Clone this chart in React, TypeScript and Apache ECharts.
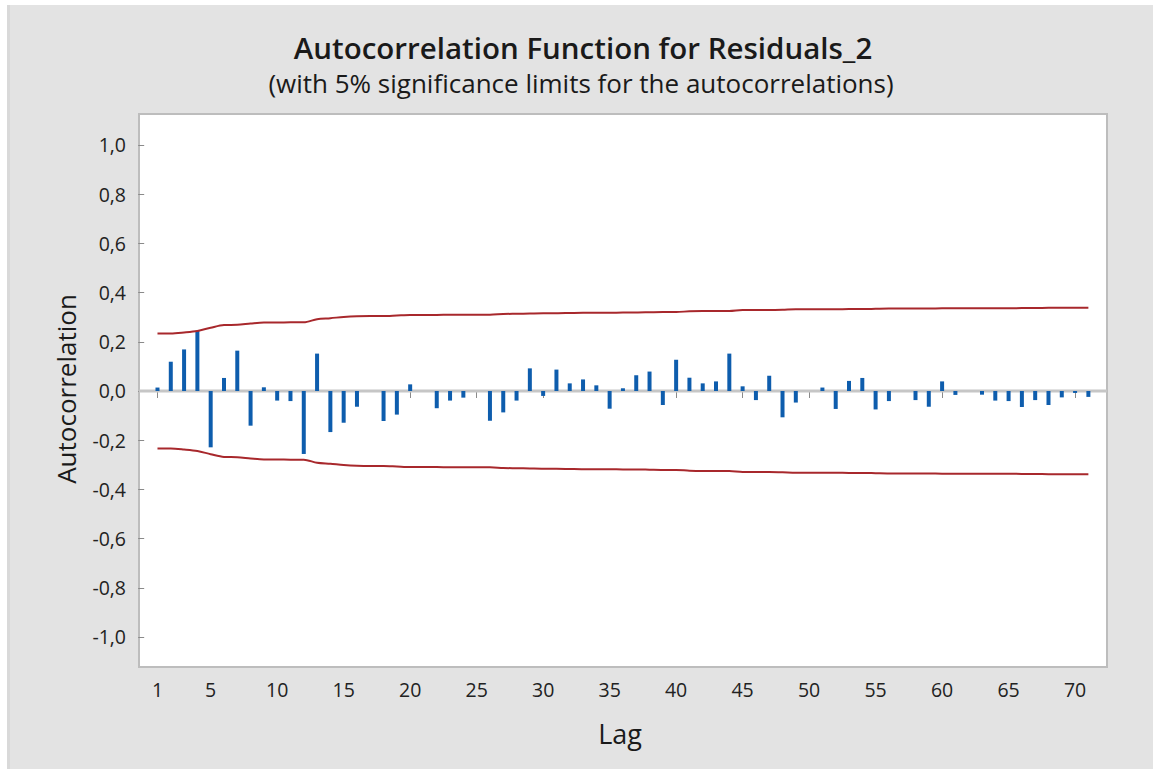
import React, { useEffect, useRef } from "react";
import * as echarts from "echarts";

const lags: number[] = Array.from({ length: 71 }, (_, i) => i + 1);

const acfValues: number[] = [
  0.014, 0.119, 0.169, 0.245, -0.229, 0.053, 0.164, -0.141, 0.015, -0.039,
  -0.041, -0.256, 0.152, -0.167, -0.129, -0.064, 0, -0.122, -0.096, 0.027,
  0, -0.07, -0.039, -0.027, 0, -0.121, -0.087, -0.039, 0.092, -0.02,
  0.087, 0.031, 0.047, 0.023, -0.072, 0.011, 0.064, 0.079, -0.057, 0.127,
  0.054, 0.031, 0.039, 0.152, 0.019, -0.037, 0.062, -0.107, -0.047, 0,
  0.014, -0.073, 0.041, 0.053, -0.075, -0.041, 0, -0.037, -0.064, 0.039,
  -0.016, 0, -0.015, -0.039, -0.041, -0.065, -0.037, -0.057, -0.026, -0.008,
  -0.024,
];

const upperLimits: number[] = [
  0.234, 0.234, 0.238, 0.244, 0.257, 0.268, 0.269, 0.274, 0.278, 0.278,
  0.279, 0.279, 0.292, 0.296, 0.301, 0.304, 0.305, 0.305, 0.307, 0.309,
  0.309, 0.309, 0.31, 0.31, 0.31, 0.31, 0.313, 0.314, 0.315, 0.316,
  0.316, 0.317, 0.318, 0.318, 0.318, 0.319, 0.319, 0.32, 0.321, 0.321,
  0.324, 0.325, 0.325, 0.325, 0.329, 0.329, 0.329, 0.33, 0.332, 0.332,
  0.332, 0.332, 0.333, 0.333, 0.334, 0.335, 0.335, 0.335, 0.335, 0.336,
  0.336, 0.336, 0.336, 0.336, 0.336, 0.337, 0.337, 0.338, 0.338, 0.338,
  0.338,
];
const lowerLimits: number[] = upperLimits.map((v) => -v);

const xTicks: number[] = [1, 5, 10, 15, 20, 25, 30, 35, 40, 45, 50, 55, 60, 65, 70];
const yTicks: number[] = [-1, -0.8, -0.6, -0.4, -0.2, 0, 0.2, 0.4, 0.6, 0.8, 1];

const titleText = "Autocorrelation Function for Residuals_2";
const subtitleText = "(with 5% significance limits for the autocorrelations)";
const xName = "Lag";
const yName = "Autocorrelation";

const FONT = "'Open Sans', 'Noto Sans', sans-serif";
const X_MIN = -0.39;
const X_MAX = 72.4;

export default function App() {
  const ref = useRef<HTMLDivElement>(null);
  useEffect(() => {
    if (!ref.current) return;
    const chart = echarts.init(ref.current, null, { renderer: "svg" });
    chart.setOption({
      animation: false,
      backgroundColor: "#e3e3e3",
      textStyle: { fontFamily: FONT },
      graphic: [
        { type: "rect", shape: { x: 0, y: 0, width: 1153, height: 5 }, style: { fill: "#ffffff" }, silent: true },
        { type: "rect", shape: { x: 0, y: 0, width: 7, height: 769 }, style: { fill: "#ffffff" }, silent: true },
        { type: "rect", shape: { x: 7, y: 5, width: 3, height: 764 }, style: { fill: "#d9d9d9" }, silent: true },
        {
          type: "text", x: 583, y: 47,
          style: { text: titleText, fontFamily: FONT, fontSize: 29.5, fontWeight: 600, fill: "#1a1a1a", textAlign: "center", textVerticalAlign: "middle" },
        },
        {
          type: "text", x: 581, y: 83,
          style: { text: subtitleText, fontFamily: FONT, fontSize: 26, fill: "#1a1a1a", textAlign: "center", textVerticalAlign: "middle" },
        },
        {
          type: "text", x: 66, y: 389, rotation: Math.PI / 2,
          style: { text: yName, fontFamily: FONT, fontSize: 26, fill: "#1a1a1a", textAlign: "center", textVerticalAlign: "middle" },
        },
        {
          type: "text", x: 620, y: 733,
          style: { text: xName, fontFamily: FONT, fontSize: 27, fill: "#1a1a1a", textAlign: "center", textVerticalAlign: "middle" },
        },
      ],
      grid: {
        left: 139, top: 114, width: 968, height: 553,
        show: true, backgroundColor: "#ffffff", borderColor: "#bdbdbd", borderWidth: 2,
      },
      xAxis: {
        type: "value", min: X_MIN, max: X_MAX,
        axisLine: { show: false },
        splitLine: { show: false },
        axisTick: { show: true, customValues: xTicks, length: 7, lineStyle: { color: "#8a8a8a", width: 1 } },
        axisLabel: { customValues: xTicks, fontSize: 19.5, color: "#222222", margin: 12, fontFamily: FONT },
      },
      yAxis: {
        type: "value", min: -1.122, max: 1.126,
        axisLine: { show: false },
        splitLine: { show: false },
        axisTick: { show: true, customValues: yTicks, length: 6, lineStyle: { color: "#8a8a8a", width: 1 } },
        axisLabel: {
          customValues: yTicks, fontSize: 19.5, color: "#222222", margin: 13, fontFamily: FONT,
          formatter: (v: number) => v.toFixed(1).replace(".", ",").replace("-0,0", "0,0"),
        },
      },
      series: [
        {
          type: "line", z: 1, silent: true, showSymbol: false,
          data: [[X_MIN, 0], [X_MAX, 0]],
          lineStyle: { color: "#c6c6c6", width: 3 },
        },
        {
          type: "bar", z: 3, barWidth: 4,
          data: lags.map((l, i) => [l, acfValues[i]]),
          itemStyle: { color: "#0e5dad" },
        },
        {
          type: "line", z: 4, showSymbol: false, smooth: 0.3,
          data: lags.map((l, i) => [l, upperLimits[i]]),
          lineStyle: { color: "#a8282c", width: 2 },
        },
        {
          type: "line", z: 4, showSymbol: false, smooth: 0.3,
          data: lags.map((l, i) => [l, lowerLimits[i]]),
          lineStyle: { color: "#a8282c", width: 2 },
        },
      ],
    });
    return () => chart.dispose();
  }, []);
  return <div ref={ref} style={{ position: "fixed", left: 0, top: 0, width: 1153, height: 769 }} />;
}
